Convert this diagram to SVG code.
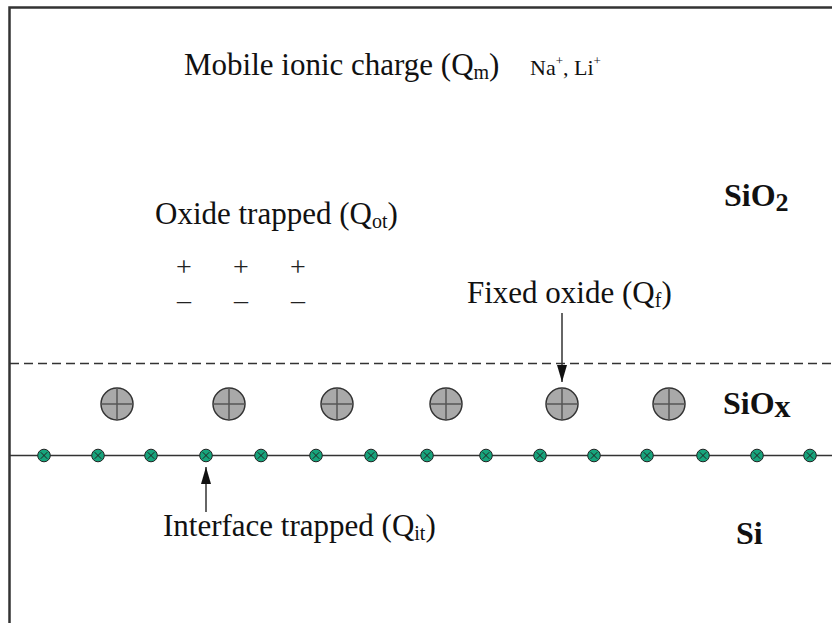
<svg xmlns="http://www.w3.org/2000/svg" width="832" height="623" viewBox="0 0 832 623">
<style>
.t{font-family:"Liberation Serif","Times New Roman",serif;font-size:31px;fill:#111}
.b{font-family:"Liberation Serif","Times New Roman",serif;font-size:32px;font-weight:bold;fill:#111}
.sub{font-size:20px}
.pm{font-family:"Liberation Serif","Times New Roman",serif;font-size:28px;fill:#222}
.fix{fill:#a9a9a9;stroke:#333;stroke-width:1.5}
.fixc{stroke:#555;stroke-width:1.5}
.it{fill:#17a47c;stroke:#222;stroke-width:1}
.itx{stroke:#222;stroke-width:1}
.ln{stroke:#333;stroke-width:1.5;fill:none}
</style>
<defs>
<marker id="ah" viewBox="0 0 17 10" refX="17" refY="5" markerWidth="17" markerHeight="10" markerUnits="userSpaceOnUse" orient="auto">
<path d="M0 0 L17 5 L0 10 Z" fill="#111"/>
</marker>
<g id="fx"><circle r="16" class="fix"/><path d="M-16 0H16M0 -16V16" class="fixc"/></g>
<g id="dt"><circle r="6.3" class="it"/><path d="M-3.3 -3.3L3.3 3.3M-3.3 3.3L3.3 -3.3" class="itx"/></g>
</defs>
<rect width="832" height="623" fill="#fff"/>
<g id="frame"><path d="M9.5 623V7.5H832" fill="none" stroke="#333" stroke-width="2.5"/></g>
<g id="layers">
<line x1="10" y1="363.5" x2="832" y2="363.5" class="ln" stroke-dasharray="9 5"/>
<line x1="10" y1="455.5" x2="832" y2="455.5" class="ln"/>
</g>
<g id="mobile"><text x="184" y="75" class="t">Mobile ionic charge (Q<tspan class="sub" dy="4">m</tspan><tspan dy="-4">)</tspan></text>
<text x="530" y="75" class="t" style="font-size:22px">Na<tspan style="font-size:13px" dy="-10">+</tspan><tspan dy="10">, Li</tspan><tspan style="font-size:13px" dy="-10">+</tspan></text></g>
<g id="oxide-trapped"><text x="155" y="224" class="t">Oxide trapped (Q<tspan class="sub" dy="4">ot</tspan><tspan dy="-4">)</tspan></text>
<text x="184" y="276" class="pm" text-anchor="middle">+</text><text x="241" y="276" class="pm" text-anchor="middle">+</text><text x="298" y="276" class="pm" text-anchor="middle">+</text>
<text x="184" y="309" class="pm" text-anchor="middle">–</text><text x="241" y="309" class="pm" text-anchor="middle">–</text><text x="298" y="309" class="pm" text-anchor="middle">–</text></g>
<g id="fixed-oxide"><text x="467" y="303" class="t">Fixed oxide (Q<tspan class="sub" dy="4">f</tspan><tspan dy="-4">)</tspan></text>
<use href="#fx" x="117" y="404"/><use href="#fx" x="229" y="404"/><use href="#fx" x="337" y="404"/><use href="#fx" x="446" y="404"/><use href="#fx" x="562" y="404"/><use href="#fx" x="669" y="404"/></g>
<g id="interface-trapped"><text x="163" y="536" class="t">Interface trapped (Q<tspan class="sub" dy="4">it</tspan><tspan dy="-4">)</tspan></text>
<use href="#dt" x="44" y="455.5"/><use href="#dt" x="98" y="455.5"/><use href="#dt" x="151" y="455.5"/><use href="#dt" x="206" y="455.5"/><use href="#dt" x="261" y="455.5"/><use href="#dt" x="316" y="455.5"/><use href="#dt" x="371" y="455.5"/><use href="#dt" x="427" y="455.5"/><use href="#dt" x="486" y="455.5"/><use href="#dt" x="540" y="455.5"/><use href="#dt" x="594" y="455.5"/><use href="#dt" x="647" y="455.5"/><use href="#dt" x="703" y="455.5"/><use href="#dt" x="757" y="455.5"/><use href="#dt" x="810" y="455.5"/></g>
<g id="sio2"><text x="724" y="206" class="b">SiO<tspan style="font-size:26px" dy="5">2</tspan></text></g>
<g id="siox"><text x="723" y="414" class="b">SiO<tspan dy="3">x</tspan></text></g>
<g id="si"><text x="736" y="544" class="b">Si</text></g>
<g id="connectors">
<line x1="562" y1="313" x2="562" y2="382" class="ln" marker-end="url(#ah)"/>
<line x1="206" y1="512" x2="206" y2="467" class="ln" marker-end="url(#ah)"/>
</g>
</svg>
